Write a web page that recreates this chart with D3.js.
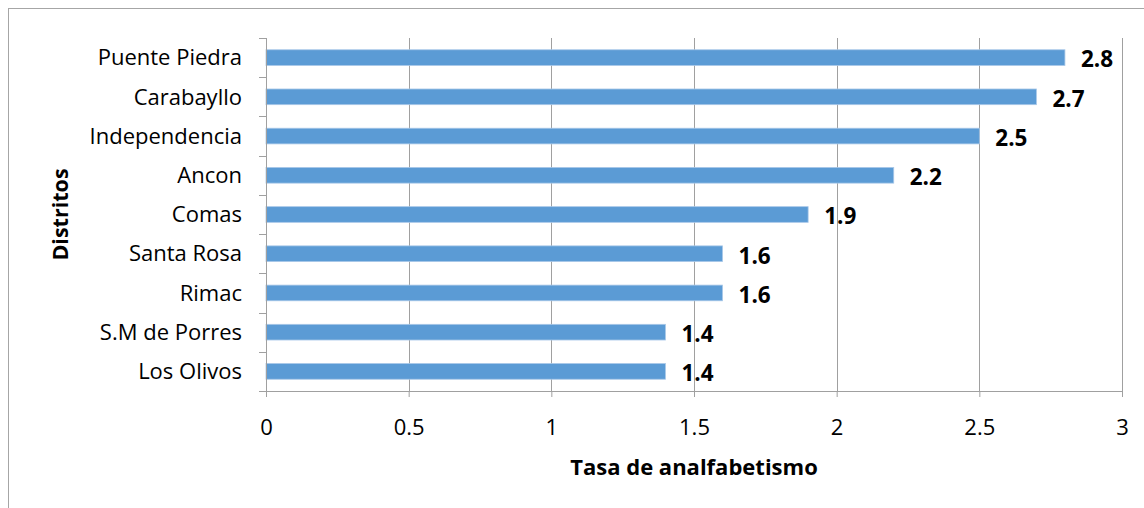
<!DOCTYPE html>
<html>
<head>
<meta charset="utf-8">
<script src="https://cdn.jsdelivr.net/npm/d3@7"></script>
<style>
  body { margin: 0; background: #fff; }
  svg { display: block; font-family: "Open Sans", sans-serif; }
</style>
</head>
<body>
<div id="chart"></div>
<script>
const districts = ['Puente Piedra', 'Carabayllo', 'Independencia', 'Ancon', 'Comas', 'Santa Rosa', 'Rimac', 'S.M de Porres', 'Los Olivos']
const rates = [2.8, 2.7, 2.5, 2.2, 1.9, 1.6, 1.6, 1.4, 1.4]
const xTicks = [0, 0.5, 1, 1.5, 2, 2.5, 3]

const width = 1144
const height = 508
const margin = { top: 38, right: 22, bottom: 117, left: 266 }
const innerW = width - margin.left - margin.right
const innerH = height - margin.top - margin.bottom

const svg = d3.select('#chart').append('svg')
  .attr('width', width)
  .attr('height', height)

// chart border
svg.append('rect')
  .attr('x', 8.5).attr('y', 8.5)
  .attr('width', width).attr('height', height)
  .attr('fill', 'none')
  .attr('stroke', '#a6a6a6')

const g = svg.append('g').attr('transform', `translate(${margin.left}, ${margin.top})`)

const x = d3.scaleLinear().domain([0, 3]).range([0, innerW])
const y = d3.scaleBand().domain(districts).range([0, innerH]).paddingInner(0.6).paddingOuter(0.3)

// vertical gridlines
g.append('g')
  .selectAll('line')
  .data(xTicks.slice(1))
  .join('line')
  .attr('x1', d => Math.round(x(d)) + 0.5)
  .attr('x2', d => Math.round(x(d)) + 0.5)
  .attr('y1', 0)
  .attr('y2', innerH)
  .attr('stroke', '#a0a0a0')

// bars
g.append('g')
  .selectAll('rect')
  .data(rates)
  .join('rect')
  .attr('x', 0)
  .attr('y', (d, i) => y(districts[i]))
  .attr('width', d => x(d))
  .attr('height', y.bandwidth())
  .attr('fill', '#5b9bd5')
  .attr('stroke', '#a9c8e8')
  .attr('stroke-width', 0.8)

// x axis
const xAxis = g.append('g')
  .attr('transform', `translate(0, ${innerH})`)
  .call(d3.axisBottom(x).tickValues(xTicks).tickFormat(d3.format('')).tickSizeInner(6).tickSizeOuter(0).tickPadding(22))
xAxis.select('.domain').attr('stroke', '#a0a0a0')
xAxis.selectAll('.tick line').attr('stroke', '#a0a0a0')
xAxis.selectAll('.tick text').attr('font-size', 22).attr('fill', '#000')
  .attr('font-family', '"Open Sans", sans-serif')

// y axis: ticks at category boundaries
const yAxis = g.append('g')
yAxis.append('line')
  .attr('x1', 0.5).attr('x2', 0.5).attr('y1', 0).attr('y2', innerH)
  .attr('stroke', '#a0a0a0')
const step = innerH / districts.length
yAxis.selectAll('line.tk')
  .data(d3.range(districts.length + 1))
  .join('line')
  .attr('class', 'tk')
  .attr('x1', -7).attr('x2', 0)
  .attr('y1', i => Math.round(i * step) + 0.5)
  .attr('y2', i => Math.round(i * step) + 0.5)
  .attr('stroke', '#a0a0a0')
yAxis.selectAll('text')
  .data(districts)
  .join('text')
  .attr('x', -24)
  .attr('y', d => y(d) + y.bandwidth() / 2)
  .attr('dy', '0.35em')
  .attr('text-anchor', 'end')
  .attr('font-size', 22)
  .text(d => d)

// value labels
g.append('g')
  .selectAll('text')
  .data(rates)
  .join('text')
  .attr('x', d => x(d) + 16)
  .attr('y', (d, i) => y(districts[i]) + y.bandwidth() / 2 + 2)
  .attr('dy', '0.35em')
  .attr('font-size', 22.5)
  .attr('font-weight', 'bold')
  .text(d => d3.format('.1f')(d))

// axis titles
svg.append('text')
  .attr('x', margin.left + innerW / 2)
  .attr('y', 475)
  .attr('text-anchor', 'middle')
  .attr('font-size', 22)
  .attr('font-weight', 'bold')
  .text('Tasa de analfabetismo')

svg.append('text')
  .attr('transform', `translate(68, ${margin.top + innerH / 2}) rotate(-90)`)
  .attr('text-anchor', 'middle')
  .attr('font-size', 21.5)
  .attr('font-weight', 'bold')
  .text('Distritos')
</script>
</body>
</html>
